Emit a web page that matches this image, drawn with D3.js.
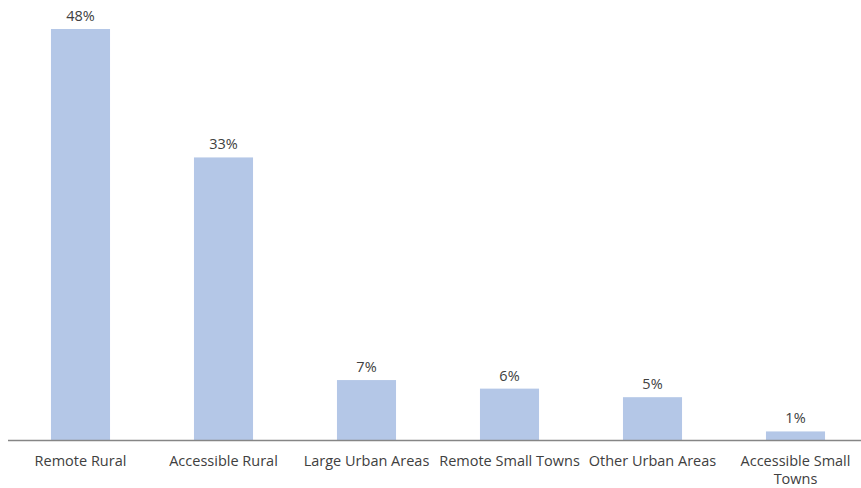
<!DOCTYPE html>
<html>
<head>
<meta charset="utf-8">
<script src="https://cdn.jsdelivr.net/npm/d3@7"></script>
<style>
  html, body { margin: 0; padding: 0; background: #fff; }
  svg { display: block; }
  text { font-family: "Open Sans", sans-serif; fill: #404040; }
</style>
</head>
<body>
<svg id="chart" width="861" height="488"></svg>
<script>
// Share of total by settlement type
const categories = ["Remote Rural", "Accessible Rural", "Large Urban Areas", "Remote Small Towns", "Other Urban Areas", "Accessible Small Towns"];
const values = [48, 33, 7, 6, 5, 1];
const valueLabels = ["48%", "33%", "7%", "6%", "5%", "1%"];

const svg = d3.select("#chart");
const baseY = 440;

const x = d3.scaleBand()
  .domain(categories)
  .range([9, 867])
  .paddingInner(0.587)
  .paddingOuter(0.2935);

const y = d3.scaleLinear()
  .domain([0, 48])
  .range([baseY, 29]);

// bars
svg.append("g")
  .selectAll("rect")
  .data(categories)
  .join("rect")
  .attr("x", d => x(d))
  .attr("y", (d, i) => y(values[i]))
  .attr("width", x.bandwidth())
  .attr("height", (d, i) => baseY - y(values[i]))
  .attr("fill", "#b4c7e7");

// value labels
svg.append("g")
  .selectAll("text")
  .data(categories)
  .join("text")
  .attr("x", d => x(d) + x.bandwidth() / 2)
  .attr("y", (d, i) => y(values[i]) - 8)
  .attr("text-anchor", "middle")
  .style("font-size", "14.5px")
  .text((d, i) => valueLabels[i]);

// category axis
const axis = d3.axisBottom(x).tickSize(0).tickPadding(0);
const gx = svg.append("g")
  .attr("transform", `translate(0,${baseY})`)
  .call(axis);
gx.select(".domain").attr("d", "M8,0.5H861").attr("stroke", "#868686").attr("stroke-width", 1.5);
gx.selectAll(".tick text")
  .attr("fill", "#404040")
  .style("font-family", "'Open Sans', sans-serif")
  .style("font-size", "14.5px")
  .attr("y", 26)
  .attr("dy", 0)
  .each(function () { wrap(d3.select(this), x.step() - 1); });

function wrap(textSel, width) {
  const words = textSel.text().split(/\s+/);
  textSel.text(null);
  let line = [];
  let tspan = textSel.append("tspan").attr("x", 0).attr("dy", 0);
  words.forEach(w => {
    line.push(w);
    tspan.text(line.join(" "));
    if (tspan.node().getComputedTextLength() > width && line.length > 1) {
      line.pop();
      tspan.text(line.join(" "));
      line = [w];
      tspan = textSel.append("tspan").attr("x", 0).attr("dy", 17.5).text(w);
    }
  });
}
</script>
</body>
</html>
